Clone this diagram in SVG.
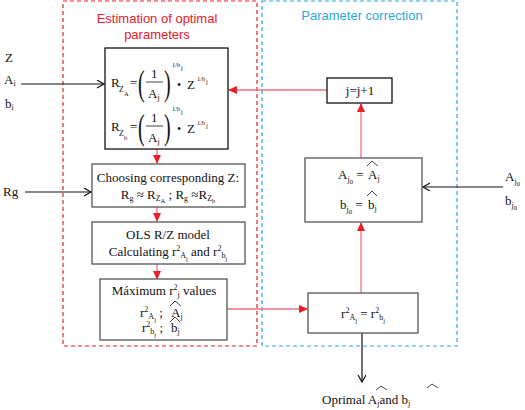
<svg xmlns="http://www.w3.org/2000/svg" width="525" height="410" viewBox="0 0 525 410">
<style>
.t{font-family:"Liberation Serif","Times New Roman",serif;font-size:13px;fill:#111}
.c{text-anchor:middle}
.h{font-family:"Liberation Sans",Arial,sans-serif;font-size:13px;text-anchor:middle}
.box{fill:#fff;stroke:#555;stroke-width:1.3}
.bk{stroke:#111}
.rl{stroke:#f07080;stroke-width:1.3;fill:none}
.kl{stroke:#111;stroke-width:1.2;fill:none}
.hat{fill:none;stroke:#111;stroke-width:0.8}
.s{font-size:8px}
.ss{font-size:6.5px}
.p{font-size:20px}
.bu{font-size:12px}
</style>
<defs>
<marker id="ar" markerWidth="10" markerHeight="10" refX="8" refY="4" orient="auto" markerUnits="userSpaceOnUse">
<path d="M0,0 L9,4 L0,8 Z" fill="#e8202a"/>
</marker>
<marker id="ak" markerWidth="10" markerHeight="10" refX="8" refY="4" orient="auto" markerUnits="userSpaceOnUse">
<path d="M1,0 L8,4 L1,8" fill="none" stroke="#111" stroke-width="1.2"/>
</marker>
</defs>

<g id="panels">
<rect x="63" y="1" width="194" height="345" fill="none" stroke="#e8202a" stroke-width="1.2" stroke-dasharray="4,3"/>
<text class="h" x="157" y="23" fill="#e8202a">Estimation of optimal</text>
<text class="h" x="157" y="39" fill="#e8202a">parameters</text>
<rect x="262" y="1" width="195" height="345" fill="none" stroke="#29a9e0" stroke-width="1.2" stroke-dasharray="4,3"/>
<text class="h" x="362" y="20" fill="#29a9e0">Parameter correction</text>
</g>

<g id="connectors">
<line class="kl" x1="21" y1="84" x2="104" y2="84" marker-end="url(#ak)"/>
<line class="kl" x1="25" y1="192" x2="91" y2="192" marker-end="url(#ak)"/>
<line class="kl" x1="503" y1="187" x2="423" y2="187" marker-end="url(#ak)"/>
<line class="kl" x1="362" y1="333" x2="362" y2="382" marker-end="url(#ak)"/>
<polyline class="rl" points="327,90 229,90" marker-end="url(#ar)"/>
<line class="rl" x1="157" y1="149" x2="157" y2="163" marker-end="url(#ar)"/>
<line class="rl" x1="157" y1="207" x2="157" y2="221" marker-end="url(#ar)"/>
<line class="rl" x1="157" y1="264" x2="157" y2="279" marker-end="url(#ar)"/>
<line class="rl" x1="227" y1="309" x2="307" y2="309" marker-end="url(#ar)"/>
<line class="rl" x1="361" y1="293" x2="361" y2="223" marker-end="url(#ar)"/>
<line class="rl" x1="361" y1="158" x2="361" y2="104" marker-end="url(#ar)"/>
</g>

<g id="inputs">
<text class="t" x="5" y="62">Z</text>
<text class="t" x="4" y="84">A<tspan class="s" dy="2">i</tspan></text>
<text class="t" x="5" y="108">b<tspan class="s" dy="2">i</tspan></text>
<text class="t" x="3" y="196">Rg</text>
<text class="t" x="505" y="181">A<tspan class="s" dy="3">j</tspan><tspan class="ss" dy="2">0</tspan></text>
<text class="t" x="505" y="205">b<tspan class="s" dy="3">j</tspan><tspan class="ss" dy="2">0</tspan></text>
</g>

<g id="node-formulas">
<rect class="box bk" x="105" y="48" width="123" height="101"/>
<g id="f1">
<text class="t" x="111" y="87">R</text>
<text class="t s" x="119" y="92">Z</text>
<text class="t ss" x="124" y="96">A</text>
<text class="t" x="130" y="87">=</text>
<text class="t p" transform="translate(138,95) scale(1,1.75)">(</text>
<text class="t" x="151" y="78">1</text>
<line x1="146" y1="82" x2="163" y2="82" stroke="#111" stroke-width="0.8"/>
<text class="t" x="148" y="98">A<tspan class="s" dy="2">j</tspan></text>
<text class="t p" transform="translate(164,95) scale(1,1.75)">)</text>
<text class="t ss" x="172" y="67">1/b</text>
<text class="t ss" x="181" y="70">j</text>
<text class="t bu" x="177" y="89">•</text>
<text class="t" x="187" y="89">Z</text>
<text class="t ss" x="197" y="81">1/b</text>
<text class="t ss" x="206" y="84">j</text>
</g>
<g id="f2" transform="translate(0,44)">
<text class="t" x="111" y="87">R</text>
<text class="t s" x="119" y="92">Z</text>
<text class="t ss" x="124" y="96">b</text>
<text class="t" x="130" y="87">=</text>
<text class="t p" transform="translate(138,95) scale(1,1.75)">(</text>
<text class="t" x="151" y="78">1</text>
<line x1="146" y1="82" x2="163" y2="82" stroke="#111" stroke-width="0.8"/>
<text class="t" x="148" y="98">A<tspan class="s" dy="2">j</tspan></text>
<text class="t p" transform="translate(164,95) scale(1,1.75)">)</text>
<text class="t ss" x="172" y="67">1/b</text>
<text class="t ss" x="181" y="70">j</text>
<text class="t bu" x="177" y="89">•</text>
<text class="t" x="187" y="89">Z</text>
<text class="t ss" x="197" y="81">1/b</text>
<text class="t ss" x="206" y="84">j</text>
</g>
</g>

<g id="node-choosing">
<rect class="box" x="92" y="164" width="153" height="43"/>
<text class="t c" x="168" y="182">Choosing corresponding Z:</text>
<text class="t c" x="168" y="199">R<tspan class="s" dy="2">g</tspan><tspan dy="-2"> ≈ R</tspan><tspan class="s" dy="2">Z</tspan><tspan class="ss" dy="2">A</tspan><tspan dy="-4"> ; R</tspan><tspan class="s" dy="2">g</tspan><tspan dy="-2"> ≈R</tspan><tspan class="s" dy="2">Z</tspan><tspan class="ss" dy="2">b</tspan></text>
</g>

<g id="node-ols">
<rect class="box" x="92" y="222" width="153" height="42"/>
<text class="t c" x="168" y="239">OLS R/Z model</text>
<text class="t c" x="168" y="256">Calculating r<tspan class="s" dy="-5">2</tspan><tspan class="s" dy="7">A</tspan><tspan class="ss" dy="3">j</tspan><tspan dy="-5"> and r</tspan><tspan class="s" dy="-5">2</tspan><tspan class="s" dy="7">b</tspan><tspan class="ss" dy="3">j</tspan></text>
</g>

<g id="node-max">
<rect class="box" x="100" y="279" width="127" height="61"/>
<text class="t c" x="164" y="295">Máximum r<tspan class="s" dy="-5">2</tspan><tspan class="s" dy="7">j</tspan><tspan dy="-2"> values</tspan></text>
<text class="t" x="140" y="317">r<tspan class="s" dy="-5">2</tspan><tspan class="s" dy="7">A</tspan><tspan class="ss" dy="3">j</tspan><tspan dy="-5"> ;</tspan></text>
<text class="t" x="171" y="317">A<tspan class="s" dy="2">j</tspan></text>
<polyline class="hat" points="170,306 175,301 181,306"/>
<text class="t" x="142" y="332">r<tspan class="s" dy="-5">2</tspan><tspan class="s" dy="7">b</tspan><tspan class="ss" dy="3">j</tspan><tspan dy="-5"> ;</tspan></text>
<text class="t" x="171" y="332">b<tspan class="s" dy="2">j</tspan></text>
<polyline class="hat" points="170,322 175,317 180,322"/>
</g>

<g id="node-j">
<rect class="box bk" x="327" y="78" width="65" height="25"/>
<text class="t c" x="360" y="95">j=j+1</text>
</g>

<g id="node-assign">
<rect class="box" x="305" y="158" width="117" height="64"/>
<text class="t" x="338" y="179">A<tspan class="s" dy="3">j</tspan><tspan class="ss" dy="2">0</tspan><tspan dy="-5"> =</tspan></text>
<text class="t" x="368" y="179">A<tspan class="s" dy="2">j</tspan></text>
<polyline class="hat" points="367,166 372,161 378,166"/>
<text class="t" x="340" y="209">b<tspan class="s" dy="3">j</tspan><tspan class="ss" dy="2">0</tspan><tspan dy="-5"> =</tspan></text>
<text class="t" x="368" y="209">b<tspan class="s" dy="2">j</tspan></text>
<polyline class="hat" points="367,196 372,191 377,196"/>
</g>

<g id="node-equal">
<rect class="box" x="308" y="293" width="110" height="40"/>
<text class="t c" x="363" y="318">r<tspan class="s" dy="-5">2</tspan><tspan class="s" dy="7">A</tspan><tspan class="ss" dy="3">j</tspan><tspan dy="-5"> = r</tspan><tspan class="s" dy="-5">2</tspan><tspan class="s" dy="7">b</tspan><tspan class="ss" dy="3">j</tspan></text>
</g>

<g id="output">
<text class="t" x="322" y="404">Oprimal A<tspan class="s" dy="2">j</tspan><tspan dy="-2">and b</tspan><tspan class="s" dy="2">j</tspan></text>
<polyline class="hat" points="376,390 381,386 387,390"/>
<polyline class="hat" points="427,388 432,384 438,388"/>
</g>
</svg>
